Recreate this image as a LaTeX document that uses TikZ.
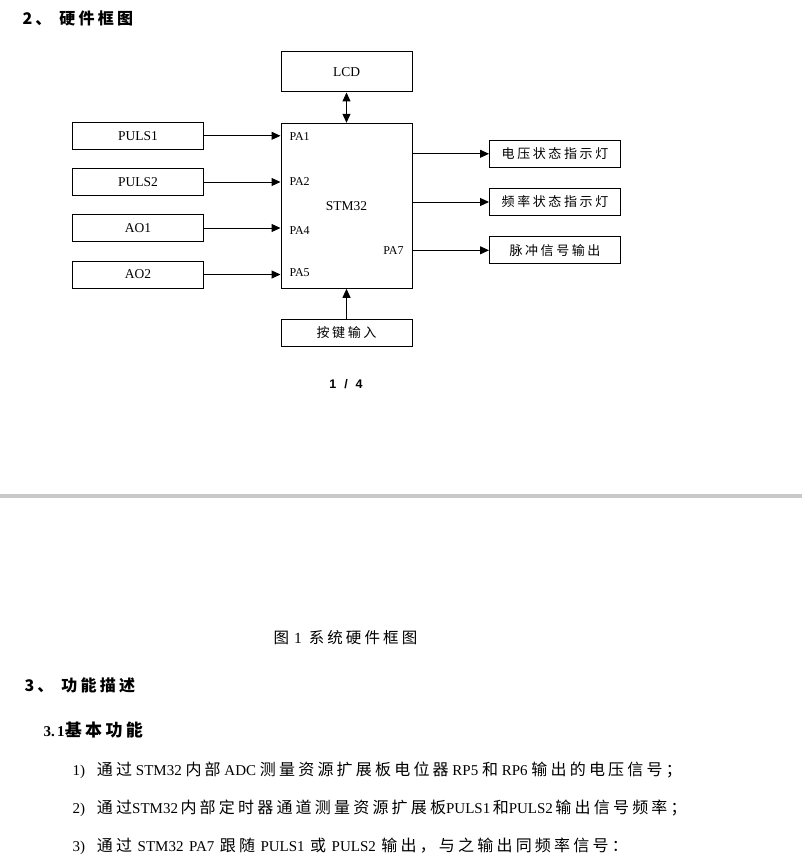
\documentclass[tikz,border=0pt]{standalone}
\usepackage{fontspec}
\setmainfont{Liberation Serif}
\newfontfamily\zh[LetterSpace=20]{Noto Sans CJK SC}
\newfontfamily\pagefont{Liberation Sans}
\usepackage{tikz}
\usetikzlibrary{arrows.meta}
\definecolor{sepgray}{RGB}{200,200,200}
\def\zhb{\zh\fontsize{16}{18}\selectfont}
\def\gap{\hspace{5.5pt}}

\begin{document}
\begin{tikzpicture}[x=1pt,y=-1pt,line width=1pt,>={Triangle[length=9pt,width=8pt]}]
				\tikzset{
					blk/.style={draw,inner sep=0pt,minimum width=131pt,minimum height=27pt,font=\fontsize{13.5}{15}\selectfont},
					pin/.style={inner sep=0pt,font=\fontsize{12}{14}\selectfont},
					head/.style={anchor=west,inner sep=0pt,font=\zh\bfseries\fontsize{16}{18}\selectfont},
					body/.style={anchor=west,inner sep=0pt,font=\fontsize{15}{17}\selectfont}
				}
				\useasboundingbox (0,0) rectangle (802,856);
				
				% Define column centres.
				\def\lx{138}      %input blocks.
				\def\mx{346.5}    %STM32 column.
				\def\rx{555}      %output blocks.
				
				% Heading
				\node[head] (sec2) at (22,18) {2、\hspace{8pt}硬件框图};
				
				% LCD and STM32
				\node[blk,minimum height=40pt] (lcd) at (\mx,72) {LCD};
				\node[blk,minimum height=165pt] (stm) at (\mx,205.8) {STM32};
				\node[blk] (key) at (\mx,332.7) {\zh\fontsize{13}{15}\selectfont 按键输入};
				
				% Input blocks
				\node[blk] (puls1) at (\lx,135.8) {PULS1};
				\node[blk] (puls2) at (\lx,182) {PULS2};
				\node[blk] (ao1) at (\lx,228) {AO1};
				\node[blk] (ao2) at (\lx,274.5) {AO2};
				
				% Output blocks
				\node[blk] (vled) at (\rx,153.8) {\zh\fontsize{13}{15}\selectfont 电压状态指示灯};
				\node[blk] (fled) at (\rx,202) {\zh\fontsize{13}{15}\selectfont 频率状态指示灯};
				\node[blk] (pout) at (\rx,250.3) {\zh\fontsize{13}{15}\selectfont 脉冲信号输出};
				
				% Pin names inside STM32
				\node[pin,anchor=west] (pa1) at (289,136.3) {PA1};
				\node[pin,anchor=west] (pa2) at (289,181.7) {PA2};
				\node[pin,anchor=west] (pa4) at (289,231) {PA4};
				\node[pin,anchor=west] (pa5) at (289,273) {PA5};
				\node[pin,anchor=east] (pa7) at (404,250.7) {PA7};
				
				% Draw arrows.
				\draw[->] (puls1.east) -- (puls1.east -| stm.west);
				\draw[->] (puls2.east) -- (puls2.east -| stm.west);
				\draw[->] (ao1.east) -- (ao1.east -| stm.west);
				\draw[->] (ao2.east) -- (ao2.east -| stm.west);
				\draw[->] (stm.east |- vled.west) -- (vled.west);
				\draw[->] (stm.east |- fled.west) -- (fled.west);
				\draw[->] (stm.east |- pout.west) -- (pout.west);
				\draw[<->] (lcd.south) -- (stm.north);
				\draw[->] (key.north) -- (stm.south);
				
				% Page number and page break
				\node[inner sep=0pt,font=\pagefont\bfseries\fontsize{12.5}{14}\selectfont] (pgno) at (346,384) {1\hspace{8pt}/\hspace{8pt}4};
				\draw[line width=4pt,color=sepgray] (0,496) -- (802,496);
				
				% Caption and text
				\node[body,font=\zh\fontsize{15.5}{17}\selectfont] (cap) at (273,638) {图\hspace{5pt}{\rmfamily 1}\hspace{7pt}系统硬件框图};
				\node[head] (sec3) at (24,685) {3、\hspace{8pt}功能描述};
				\node[head,font=\zh\bfseries\fontsize{17}{19}\selectfont] (sec31) at (43,730) {{\rmfamily\fontsize{15}{17}\selectfont 3.\,1}基本功能};
				\node[body] (item1) at (72,770) {1)\hspace{12pt}{\zhb 通过} STM32 {\zhb 内部} ADC {\zhb 测量资源扩展板电位器} RP5 {\zhb 和} RP6 {\zhb 输出的电压信号；}};
				\node[body] (item2) at (72,808) {2)\hspace{12pt}{\zhb 通过}STM32\,{\zhb 内部定时器通道测量资源扩展板}PULS1\,{\zhb 和}PULS2\,{\zhb 输出信号频率；}};
				\node[body] (item3) at (72,846) {3)\hspace{12pt}{\zhb 通过}\gap STM32\gap PA7\gap{\zhb 跟随}\gap PULS1\gap{\zhb 或}\gap PULS2\gap{\zhb 输出，与之输出同频率信号：}};
				
\end{tikzpicture}
\end{document}
